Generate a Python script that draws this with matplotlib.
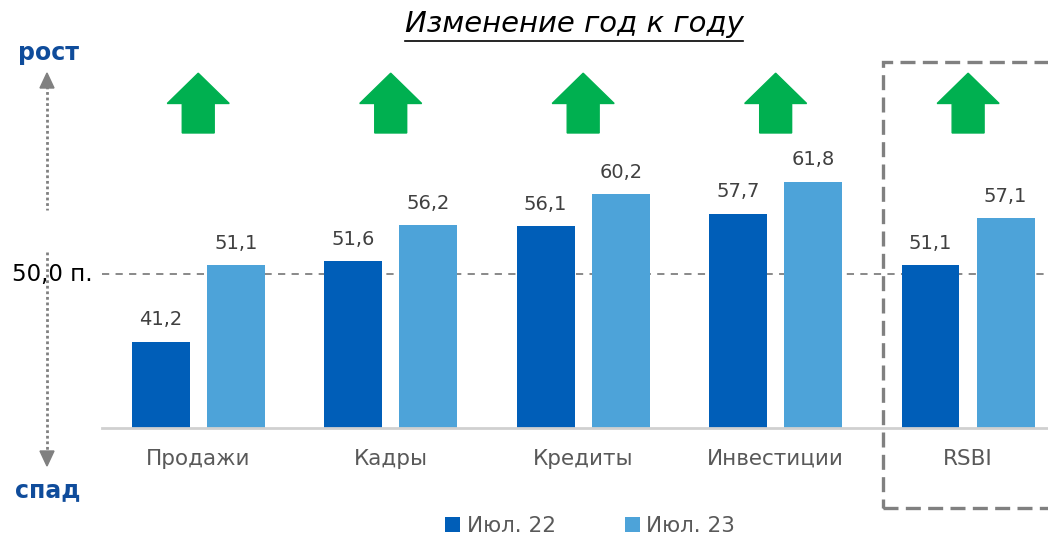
import numpy as np
import matplotlib
matplotlib.use("Agg")
from matplotlib import pyplot as plt
from matplotlib.patches import Polygon, Rectangle
from matplotlib.lines import Line2D

categories = ["Продажи", "Кадры", "Кредиты", "Инвестиции", "RSBI"]
jul22 = [41.2, 51.6, 56.1, 57.7, 51.1]
jul23 = [51.1, 56.2, 60.2, 61.8, 57.1]
series_names = ["Июл. 22", "Июл. 23"]
threshold = 50.0

W, H = 1048, 536
DARK = "#005EB8"
LIGHT = "#4DA3D9"
GREEN = "#00B050"
NAVY = "#0F4C9B"
GRAY = "#808080"

plt.rcParams["font.family"] = ["DejaVu Sans"]


def fx(x):
    return x / W


def fy(y):
    return 1 - y / H


fig = plt.figure(figsize=(W / 100, H / 100), dpi=100)
ax = fig.add_axes([fx(102), fy(428), fx(1048 - 102), (428 - 60) / H])

x = np.arange(len(categories))
bw = 0.30
off = 0.195
b1 = ax.bar(x - off, jul22, bw, color=DARK, label=series_names[0], zorder=2)
b2 = ax.bar(x + off, jul23, bw, color=LIGHT, label=series_names[1], zorder=2)

for bars, vals in ((b1, jul22), (b2, jul23)):
    for rect, v in zip(bars, vals):
        ax.text(rect.get_x() + rect.get_width() / 2, v + 1.6,
                f"{v:.1f}".replace(".", ","), ha="center", va="bottom",
                fontsize=14, color="#404040")

ax.set_ylim(30.1, 77.5)
ax.set_xlim(-0.5, 4.415)
ax.axhline(threshold, color=GRAY, lw=1.3, ls=(0, (4, 3.5)), zorder=1)
ax.axhline(30.1, color="#D0D0D0", lw=2, zorder=3, clip_on=False)

for s in ax.spines.values():
    s.set_visible(False)
ax.set_yticks([])
ax.set_xticks(x)
ax.set_xticklabels(categories, fontsize=15.5, color="#595959")
ax.tick_params(axis="x", length=0, pad=15)

# green up arrows above every group
for xi in x:
    pts = [(xi, 75.8), (xi - 0.161, 71.9), (xi - 0.083, 71.9), (xi - 0.083, 68.1),
           (xi + 0.083, 68.1), (xi + 0.083, 71.9), (xi + 0.161, 71.9)]
    ax.add_patch(Polygon(pts, closed=True, color=GREEN, clip_on=False, zorder=3))

# left side: growth / decline indicator
fig.text(fx(48), fy(53), "рост", ha="center", va="center", fontsize=17,
         fontweight="bold", color=NAVY)
fig.text(fx(48), fy(490), "спад", ha="center", va="center", fontsize=17,
         fontweight="bold", color=NAVY)
fig.add_artist(Line2D([fx(47), fx(47)], [fy(86), fy(210)], color=GRAY, lw=2,
                      ls=(0, (1, 1))))
fig.add_artist(Line2D([fx(47), fx(47)], [fy(252), fy(452)], color=GRAY, lw=2,
                      ls=(0, (1, 1))))
fig.add_artist(Polygon([(fx(47), fy(73)), (fx(40), fy(88)), (fx(54), fy(88))],
                       closed=True, color=GRAY))
fig.add_artist(Polygon([(fx(47), fy(466)), (fx(40), fy(451)), (fx(54), fy(451))],
                       closed=True, color=GRAY))
fig.text(fx(93), fy(274), "50,0 п.", ha="right", va="center", fontsize=16.5,
         color="black")

# dashed box around RSBI
fig.add_artist(Rectangle((fx(883), fy(508)), fx(200), (508 - 62) / H, fill=False,
                         ec=GRAY, lw=2.4, ls=(0, (4.5, 2.2)), clip_on=False))

# title with underline
title = fig.text(fx(574), fy(24), "Изменение год к году", ha="center", va="center",
                 fontsize=21, style="italic", color="black")
fig.canvas.draw()
bb = title.get_window_extent().transformed(fig.transFigure.inverted())
fig.add_artist(Line2D([bb.x0, bb.x1], [fy(41), fy(41)], color="black", lw=1.2))

leg = fig.legend(handles=[b1, b2], loc="center", bbox_to_anchor=(fx(590), fy(526)),
                 ncol=2, frameon=False, fontsize=15.5, handlelength=0.7,
                 handleheight=0.7, handletextpad=0.3, columnspacing=3.2,
                 labelcolor="#595959")

fig.savefig("out.png", dpi=100)
